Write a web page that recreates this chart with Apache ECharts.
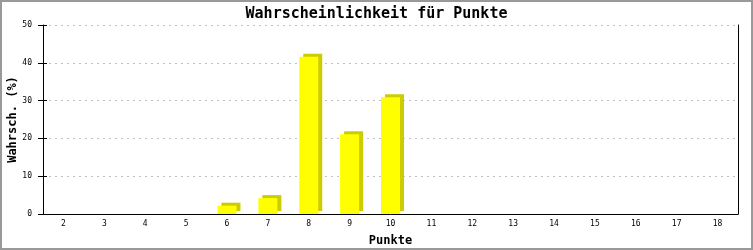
<!DOCTYPE html>
<html>
<head>
<meta charset="utf-8">
<script src="https://cdn.jsdelivr.net/npm/echarts@6/dist/echarts.min.js"></script>
<style>
html,body{margin:0;padding:0;background:#fff;}
#c{width:753px;height:250px;}
</style>
</head>
<body>
<div id="c"></div>
<script>
const titleText = 'Wahrscheinlichkeit für Punkte';
const xName = 'Punkte';
const yName = 'Wahrsch. (%)';
const categories = ['2','3','4','5','6','7','8','9','10','11','12','13','14','15','16','17','18'];
const values = [0, 0, 0, 0, 2.2, 4.2, 41.6, 21.1, 30.9, 0, 0, 0, 0, 0, 0, 0, 0];
const yTicks = [0, 10, 20, 30, 40, 50];

const mono = '"DejaVu Sans Mono", monospace';
const chart = echarts.init(document.getElementById('c'), null, {renderer: 'canvas'});
chart.setOption({
  animation: false,
  backgroundColor: '#ffffff',
  title: {
    text: titleText, left: 'center', top: 2,
    textStyle: {fontFamily: mono, fontWeight: 'bold', fontSize: 15, color: '#000'}
  },
  graphic: [{
    type: 'rect', shape: {x: 1, y: 1, width: 751, height: 248},
    style: {fill: 'none', stroke: '#999999', lineWidth: 2}, silent: true, z: 100
  }],
  grid: {left: 43, right: 15, top: 25, bottom: 36, containLabel: false, outerBoundsMode: 'none'},
  xAxis: {
    type: 'category', data: categories,
    name: xName, nameLocation: 'middle', nameGap: 21, nameMoveOverlap: false,
    nameTextStyle: {fontFamily: mono, fontWeight: 'bold', fontSize: 12, color: '#000'},
    axisLine: {lineStyle: {color: '#000', width: 1}},
    axisTick: {show: false},
    axisLabel: {fontFamily: mono, fontSize: 8, color: '#000', margin: 6, interval: 0}
  },
  yAxis: [{
    type: 'value', min: yTicks[0], max: yTicks[yTicks.length - 1], interval: 10,
    name: yName, nameLocation: 'middle', nameGap: 24, nameRotate: 90, nameMoveOverlap: false,
    nameTextStyle: {fontFamily: mono, fontWeight: 'bold', fontSize: 12, color: '#000'},
    axisLine: {show: true, lineStyle: {color: '#000', width: 1}},
    axisTick: {show: true, length: 5, lineStyle: {color: '#000'}},
    axisLabel: {fontFamily: mono, fontSize: 8, color: '#000', margin: 11},
    splitLine: {show: true, lineStyle: {color: '#c0c0c0', type: [2, 4]}}
  }, {
    type: 'value', min: yTicks[0], max: yTicks[yTicks.length - 1], interval: 10,
    position: 'left', offset: 0,
    axisLine: {show: false},
    axisTick: {show: true, inside: true, length: 4, lineStyle: {color: '#000'}},
    axisLabel: {show: false},
    splitLine: {show: false}
  }, {
    type: 'value', min: yTicks[0], max: yTicks[yTicks.length - 1], interval: 10,
    position: 'right',
    axisLine: {show: true, lineStyle: {color: '#000', width: 1}},
    axisTick: {show: false},
    axisLabel: {show: false},
    splitLine: {show: false}
  }],
  series: [{
    type: 'bar', data: values, barWidth: 19,
    itemStyle: {
      color: '#ffff00',
      shadowColor: '#cccc00', shadowBlur: 0, shadowOffsetX: 4, shadowOffsetY: -3
    }
  }]
});
</script>
</body>
</html>
